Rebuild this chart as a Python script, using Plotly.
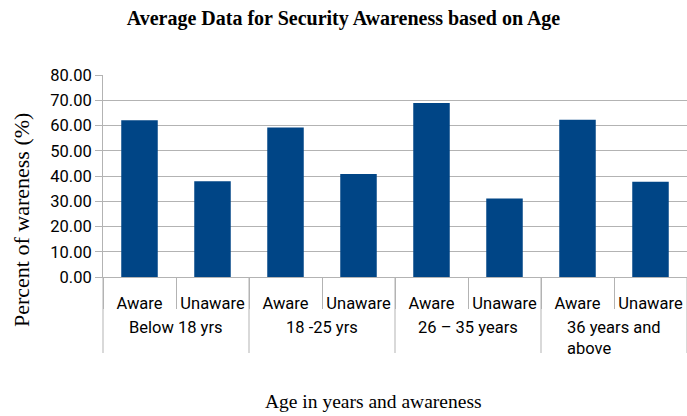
import plotly.graph_objects as go

groups = ["Below 18 yrs", "18 -25 yrs", "26 – 35 years", "36 years and<br>above"]
subcats = ["Aware", "Unaware"]
values = [62.1, 37.9, 59.2, 40.8, 68.9, 31.1, 62.3, 37.7]

keys = [f"{g}|{s}" for g in groups for s in subcats]
sub_labels = [s for _ in groups for s in subcats]

GRID = "#b3b3b3"
TICKFONT = dict(family="Roboto", size=16.5, color="black")
W, H = 687, 416
L, R, T, B = 103, 0, 75, 139
PW, PH = W - L - R, H - T - B

fig = go.Figure(go.Bar(x=keys, y=values, marker=dict(color="#004586", line=dict(width=0))))

annotations = [
    dict(text="Percent of wareness (%)", xref="paper", yref="paper",
         x=(21 - L) / PW, y=(H - B - 220) / PH, xanchor="center", yanchor="middle",
         textangle=-90, showarrow=False,
         font=dict(family="Liberation Serif", size=22, color="black")),
    dict(text="Age in years and awareness", xref="paper", yref="paper",
         x=(373 - L) / PW, y=-(401 - (H - B)) / PH, xanchor="center", yanchor="middle",
         showarrow=False,
         font=dict(family="Liberation Serif", size=19.5, color="black")),
]
n = len(groups)
for i, g in enumerate(groups):
    annotations.append(dict(
        text=g, xref="paper", yref="paper", x=(i + 0.5) / n, y=-(316 - (H - B)) / PH,
        xanchor="center", yanchor="top", align="left", showarrow=False,
        font=TICKFONT))

shapes = []
for i in range(n + 1):
    shapes.append(dict(type="line", xref="paper", yref="paper",
                       x0=i / n, x1=i / n, y0=0, y1=-(353 - (H - B)) / PH,
                       line=dict(color=GRID, width=1)))

fig.update_layout(
    width=W, height=H,
    margin=dict(l=L, r=R, t=T, b=B),
    paper_bgcolor="white", plot_bgcolor="white",
    bargap=0.5,
    showlegend=False,
    title=dict(text="<b>Average Data for Security Awareness based on Age</b>",
               x=0.5, xanchor="center", y=0.957, yanchor="middle",
               font=dict(family="Liberation Serif", size=20, color="black")),
    font=dict(family="Roboto", size=16, color="black"),
    annotations=annotations,
    shapes=shapes,
)
fig.update_yaxes(range=[0, 80], dtick=10, tickformat=".2f",
                 showgrid=True, gridcolor=GRID, gridwidth=1,
                 showline=True, linecolor=GRID, linewidth=1,
                 ticks="outside", ticklen=7, tickcolor=GRID,
                 zeroline=False, tickfont=TICKFONT)
fig.update_xaxes(type="category", tickvals=keys, ticktext=sub_labels,
                 showline=True, linecolor=GRID, linewidth=1,
                 ticks="outside", ticklen=31, tickcolor=GRID, tickson="boundaries",
                 tickangle=0, ticklabelstandoff=11,
                 tickfont=TICKFONT)

fig.write_html("out.html")
